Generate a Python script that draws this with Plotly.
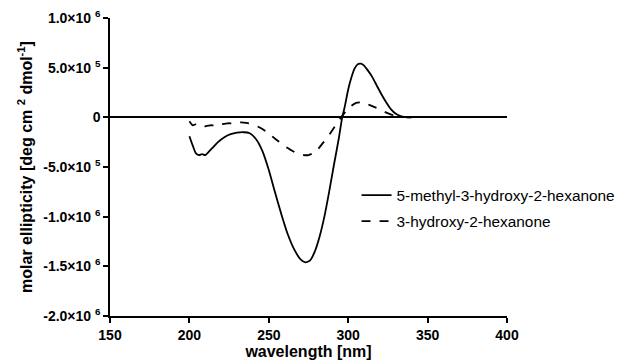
import plotly.graph_objects as go

# wavelength [nm] and molar ellipticity (units of 1e5 deg cm^2 dmol^-1)
wl_a = [200, 202, 204, 206, 208, 210, 212, 215, 218, 222, 226, 230, 234, 238, 242, 246,
        250, 254, 258, 262, 266, 270, 273, 276, 279, 282, 285, 288, 291, 294, 296, 298,
        300, 302, 304, 306, 308, 310, 312, 315, 318, 321, 324, 327, 330, 333, 336, 340]
val_a = [-1.9, -2.8, -3.6, -3.8, -3.7, -3.8, -3.5, -3.0, -2.5, -2.0, -1.7, -1.55, -1.5, -1.6, -2.2, -3.4,
         -5.3, -7.6, -9.8, -11.8, -13.3, -14.3, -14.6, -14.4, -13.5, -12.0, -10.0, -7.5, -4.8, -2.2, -0.2, 1.2,
         2.8, 4.0, 4.9, 5.35, 5.4, 5.2, 4.8, 4.1, 3.2, 2.3, 1.5, 0.8, 0.35, 0.12, 0.03, 0.0]

wl_b = [200, 202, 204, 206, 208, 210, 213, 216, 220, 224, 228, 232, 236, 240, 244, 248,
        252, 256, 260, 264, 268, 272, 275, 278, 281, 284, 287, 290, 293, 296, 299, 302,
        305, 308, 311, 314, 317, 320, 323, 326, 329, 332, 336, 340]
val_b = [-0.4, -0.8, -0.7, -0.9, -0.8, -0.9, -0.8, -0.8, -0.7, -0.6, -0.6, -0.5, -0.55, -0.7, -1.0, -1.4,
         -1.9, -2.4, -2.9, -3.3, -3.65, -3.8, -3.8, -3.6, -3.2, -2.6, -2.0, -1.3, -0.6, 0.1, 0.7, 1.15,
         1.45, 1.5, 1.4, 1.2, 1.0, 0.8, 0.55, 0.35, 0.18, 0.07, 0.02, 0.0]

names = ["5-methyl-3-hydroxy-2-hexanone", "3-hydroxy-2-hexanone"]

y_tickvals = [1.0e6, 5.0e5, 0, -5.0e5, -1.0e6, -1.5e6, -2.0e6]
y_ticktext = ["1.0×10 <sup>6</sup>", "5.0×10 <sup>5</sup>", "0", "-5.0×10 <sup>5</sup>",
              "-1.0×10 <sup>6</sup>", "-1.5×10 <sup>6</sup>", "-2.0×10 <sup>6</sup>"]
x_tickvals = [150, 200, 250, 300, 350, 400]

FONT = "Liberation Sans, Arial, sans-serif"

fig = go.Figure()
fig.add_trace(go.Scatter(x=wl_a, y=[v * 1e5 for v in val_a], mode="lines", name=names[0],
                         legendgroup="a",
                         line=dict(color="black", width=1.8, shape="spline", smoothing=0.6)))
fig.add_trace(go.Scatter(x=wl_b, y=[v * 1e5 for v in val_b], mode="lines", name=names[1],
                         legendgroup="b",
                         line=dict(color="black", width=1.8, dash="dash", shape="spline", smoothing=0.6)))

axis_common = dict(showline=True, linecolor="black", linewidth=1.5, ticks="outside",
                   ticklen=5, tickwidth=1.5, tickcolor="black", showgrid=False, mirror=False,
                   automargin=False,
                   tickfont=dict(family=FONT, size=14, color="black", weight="bold"))

# the page body adds an 8px offset; margins account for it
fig.update_layout(
    width=632, height=364,
    margin=dict(l=102, r=133, t=10, b=56),
    paper_bgcolor="white", plot_bgcolor="white",
    showlegend=True,
    legend=dict(x=0.621, y=0.461, xanchor="left", yanchor="top", traceorder="grouped",
                tracegroupgap=3, bgcolor="rgba(0,0,0,0)",
                font=dict(family=FONT, size=15.4, color="black")),
    xaxis=dict(range=[150, 400], tickvals=x_tickvals, zeroline=False,
               title=dict(text="wavelength [nm]", standoff=2,
                          font=dict(family=FONT, size=16, color="black", weight="bold")),
               **axis_common),
    yaxis=dict(range=[-2.0e6, 1.0e6], tickvals=y_tickvals, ticktext=y_ticktext,
               zeroline=True, zerolinecolor="black", zerolinewidth=1.5,
               title=dict(text="molar ellipticity [deg cm <sup>2</sup> dmol<sup>-1</sup>]", standoff=7,
                          font=dict(family=FONT, size=16, color="black", weight="bold")),
               **axis_common),
)

fig.write_html("out.html")
